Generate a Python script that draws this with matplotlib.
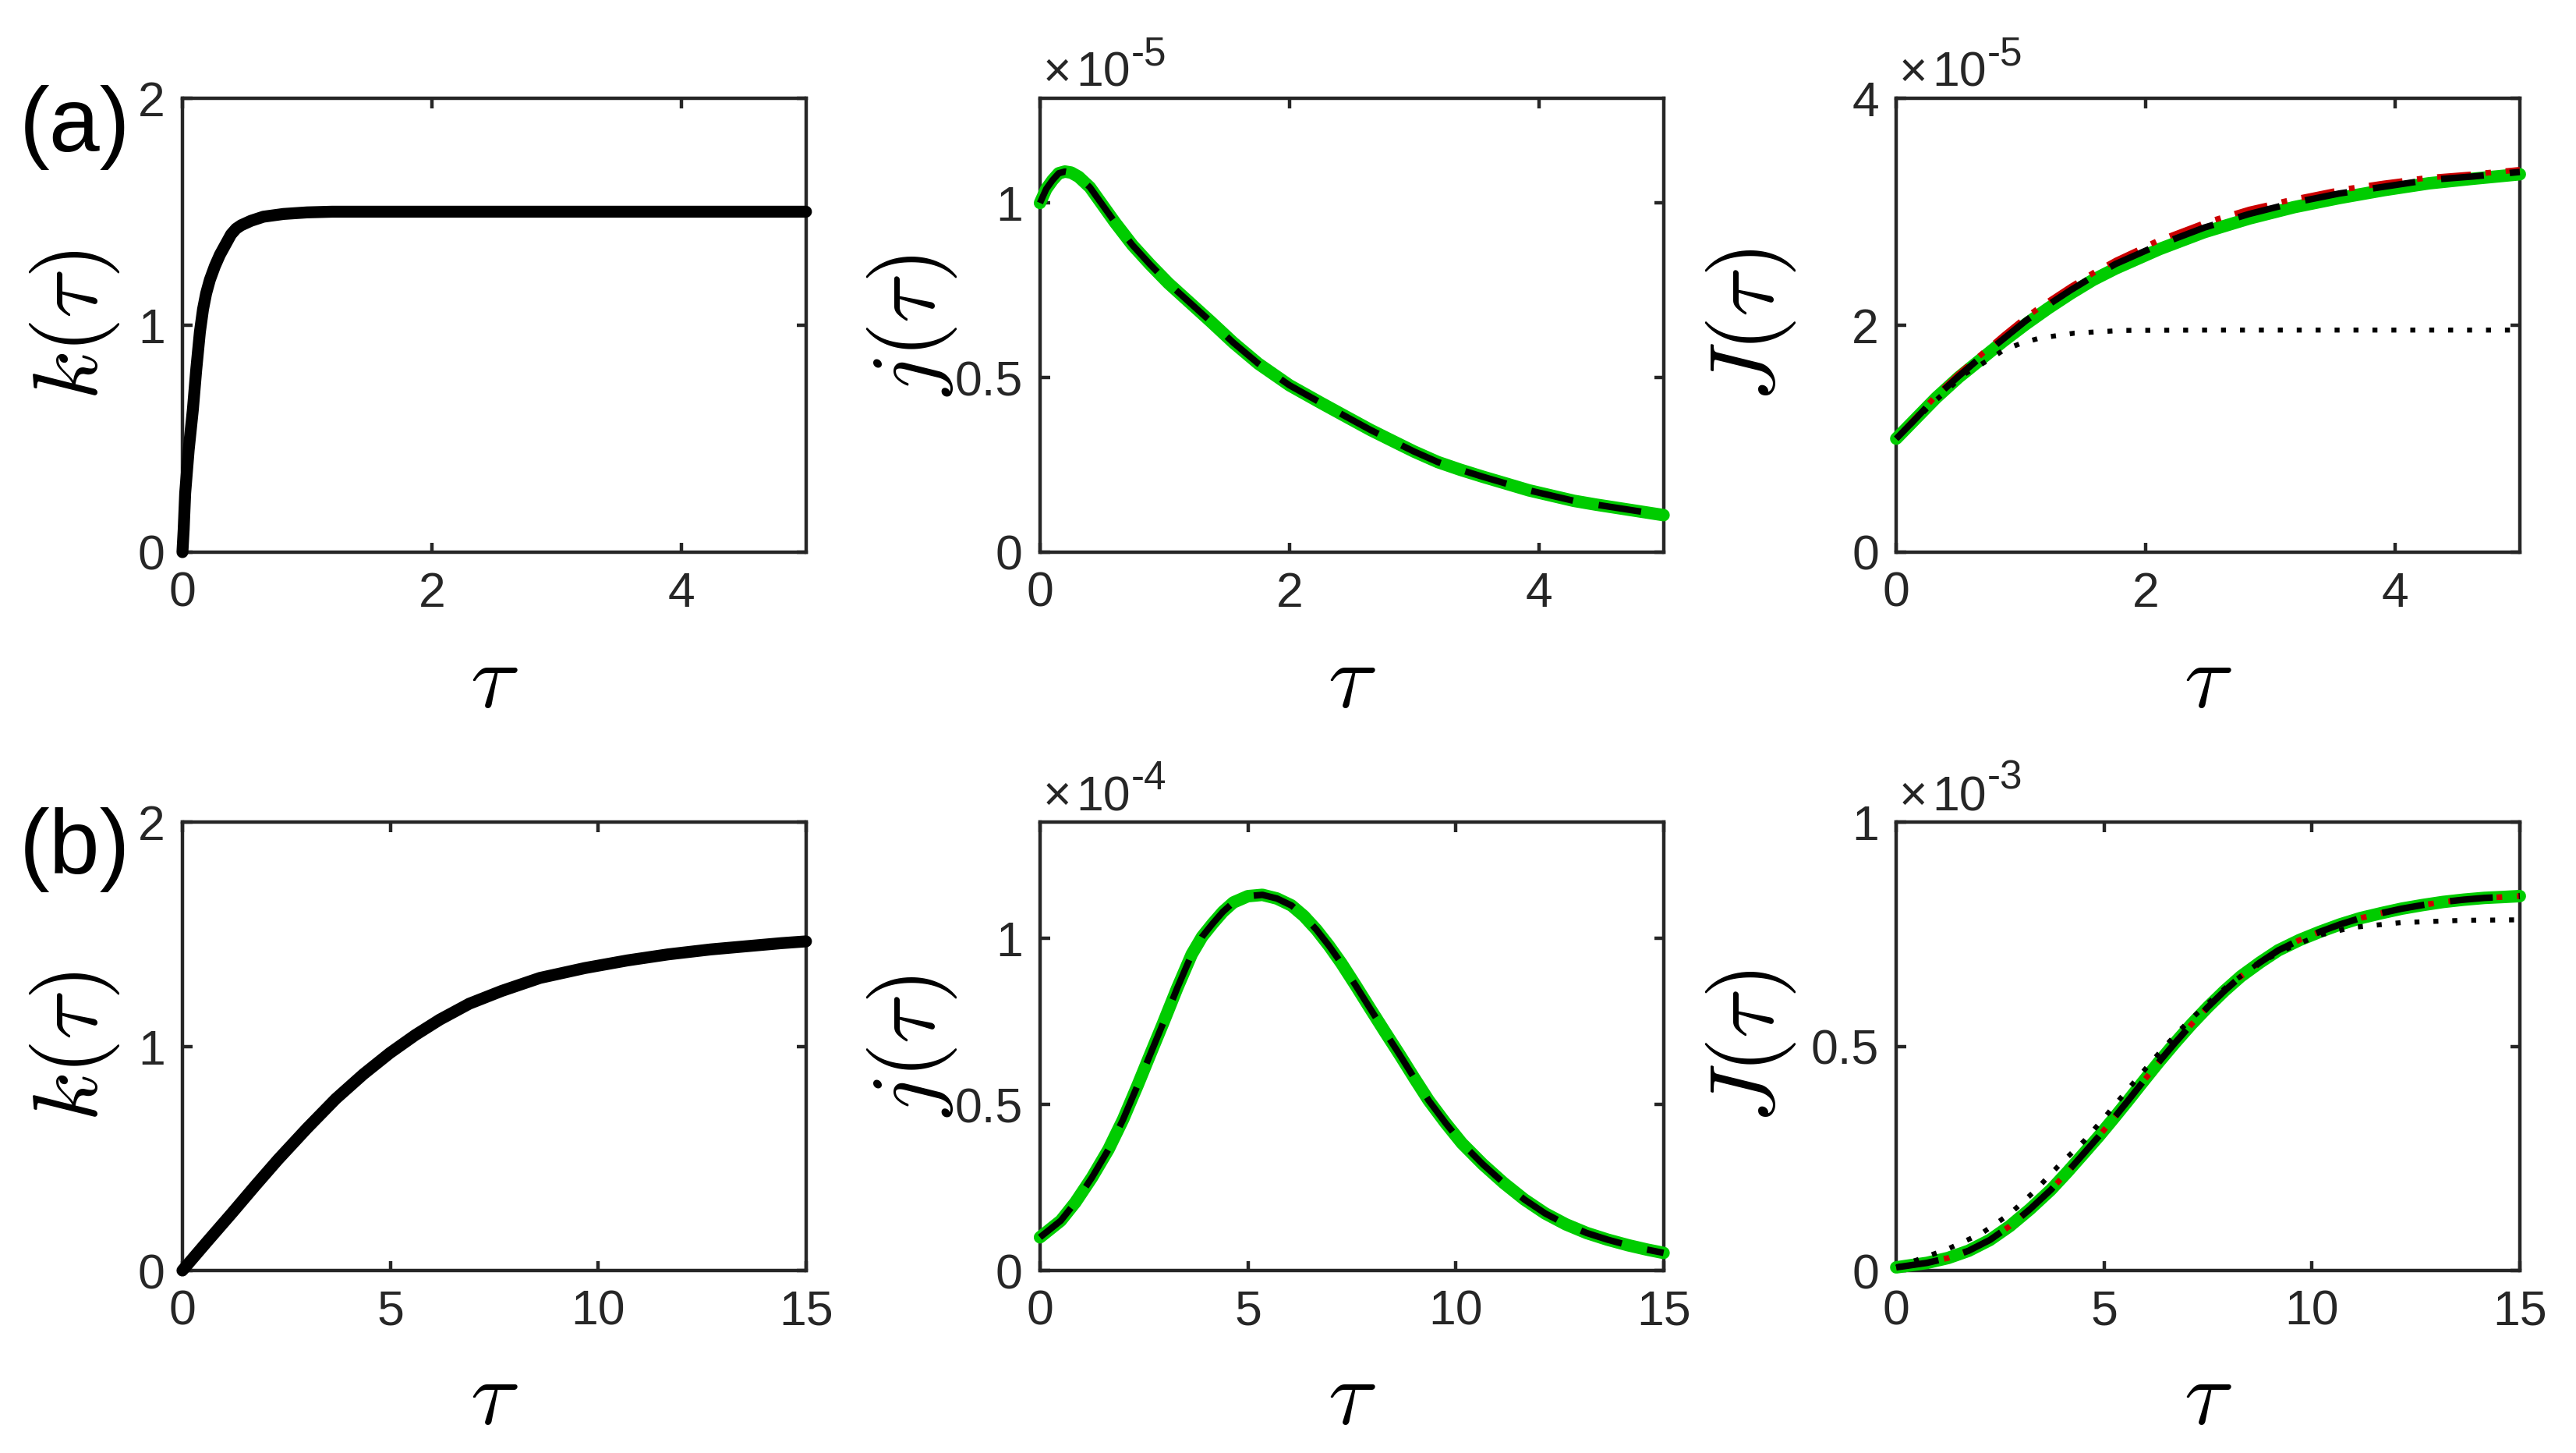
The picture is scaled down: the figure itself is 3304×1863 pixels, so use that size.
import numpy as np
import matplotlib
matplotlib.use('Agg')
import matplotlib.pyplot as plt
from matplotlib.ticker import FuncFormatter

plt.rcParams['font.family'] = ['Liberation Sans', 'DejaVu Sans']

# ---------------- DATA ----------------
# row (a): tau in [0, 5]
tau_k_a = [0, 0.01, 0.022, 0.05, 0.084, 0.11, 0.14, 0.165, 0.19, 0.22, 0.26, 0.30, 0.33,
           0.39, 0.43, 0.47, 0.55, 0.65, 0.81, 1.0, 1.2, 5.0]
k_a = [0, 0.10, 0.26, 0.45, 0.63, 0.80, 0.97, 1.07, 1.14, 1.20, 1.26, 1.31, 1.34,
       1.40, 1.425, 1.44, 1.46, 1.478, 1.49, 1.497, 1.5, 1.5]

tau_j_a = [0, 0.05, 0.1, 0.15, 0.2, 0.25, 0.31, 0.4, 0.49, 0.6, 0.74, 0.88, 1.03, 1.2,
           1.37, 1.55, 1.75, 2.0, 2.25, 2.47, 2.65, 2.83, 3.0, 3.19, 3.37, 3.55, 3.75,
           3.92, 4.1, 4.28, 4.46, 4.64, 4.82, 5.0]
j_a = [1.0, 1.04, 1.065, 1.085, 1.09, 1.087, 1.075, 1.045, 1.0, 0.945, 0.88, 0.825,
       0.77, 0.715, 0.66, 0.60, 0.54, 0.478, 0.428, 0.385, 0.35, 0.318, 0.288, 0.258,
       0.236, 0.216, 0.195, 0.177, 0.162, 0.147, 0.136, 0.126, 0.116, 0.106]   # x 1e-5

tau_J_a = [0, 0.16, 0.32, 0.5, 0.68, 0.86, 1.04, 1.22, 1.40, 1.58, 1.76, 2.11, 2.47,
           2.83, 3.19, 3.55, 3.91, 4.27, 4.62, 5.0]
J_a_exact = [1.00, 1.18, 1.36, 1.54, 1.70, 1.86, 2.01, 2.15, 2.28, 2.40, 2.50, 2.67,
             2.82, 2.94, 3.04, 3.12, 3.19, 3.25, 3.29, 3.33]
J_a_dash = [1.00, 1.18, 1.37, 1.55, 1.72, 1.88, 2.04, 2.18, 2.31, 2.43, 2.54, 2.71,
            2.86, 2.98, 3.08, 3.16, 3.22, 3.28, 3.31, 3.35]
J_a_dashdot = [1.00, 1.19, 1.38, 1.57, 1.74, 1.91, 2.07, 2.21, 2.34, 2.46, 2.57, 2.75,
               2.90, 3.02, 3.11, 3.19, 3.25, 3.30, 3.33, 3.37]
tau_J_a_dot = [0, 0.3, 0.55, 0.75, 0.86, 1.0, 1.15, 1.43, 1.82, 2.5, 3.5, 4.93]
J_a_dot = [1.0, 1.32, 1.57, 1.70, 1.78, 1.84, 1.886, 1.93, 1.954, 1.957, 1.957, 1.957]   # x 1e-5

# row (b): tau in [0, 15]
tau_k_b = [0, 0.6, 1.2, 1.75, 2.3, 3.0, 3.69, 4.35, 4.99, 5.6, 6.19, 6.9, 7.68, 8.6,
           9.68, 10.7, 11.68, 12.7, 13.67, 14.4, 15]
k_b = [0, 0.13, 0.258, 0.378, 0.495, 0.635, 0.766, 0.875, 0.97, 1.05, 1.119, 1.19,
       1.247, 1.305, 1.349, 1.383, 1.41, 1.432, 1.448, 1.46, 1.468]

tau_j_b = [0, 0.5, 0.85, 1.25, 1.65, 2.0, 2.35, 2.65, 2.95, 3.3, 3.65, 3.9, 4.15, 4.4,
           4.65, 5.0, 5.35, 5.7, 6.05, 6.35, 6.65, 6.95, 7.25, 7.6, 7.95, 8.3, 8.65, 9.0,
           9.35, 9.75, 10.15, 10.65, 11.15, 11.65, 12.15, 12.65, 13.15, 13.65, 14.15,
           14.6, 15]
j_b = [0.1, 0.15, 0.205, 0.28, 0.365, 0.455, 0.558, 0.65, 0.741, 0.85, 0.952, 1.005,
       1.044, 1.08, 1.108, 1.127, 1.131, 1.12, 1.099, 1.067, 1.026, 0.978, 0.925, 0.857,
       0.787, 0.718, 0.65, 0.58, 0.512, 0.445, 0.383, 0.32, 0.264, 0.214, 0.172, 0.139,
       0.113, 0.093, 0.076, 0.063, 0.053]   # x 1e-4

tau_J_b = [0, 0.74, 1.25, 1.74, 2.25, 2.73, 3.22, 3.72, 4.12, 4.52, 4.87, 5.21, 5.56,
           5.91, 6.3, 6.70, 7.1, 7.50, 7.9, 8.29, 8.75, 9.19, 9.7, 10.18, 10.68, 11.17,
           11.67, 12.16, 12.66, 13.16, 13.65, 14.15, 14.6, 15]
J_b_exact = [0.007, 0.017, 0.028, 0.044, 0.068, 0.099, 0.137, 0.180, 0.220, 0.262,
             0.299, 0.337, 0.377, 0.418, 0.463, 0.507, 0.549, 0.588, 0.624, 0.656,
             0.687, 0.714, 0.737, 0.755, 0.772, 0.786, 0.797, 0.807, 0.815, 0.822,
             0.827, 0.831, 0.833, 0.835]
J_b_dash = J_b_exact
J_b_dashdot = J_b_exact
tau_J_b_dot = [0, 1.24, 2.04, 2.73, 3.33, 3.92, 4.52, 5.06, 5.61, 6.21, 6.80, 7.40, 7.99,
               8.69, 9.48, 10.18, 10.97, 12.16, 13.65, 14.9]
J_b_dot = [0.007, 0.048, 0.082, 0.126, 0.177, 0.235, 0.289, 0.347, 0.408, 0.473, 0.534,
           0.588, 0.636, 0.684, 0.721, 0.748, 0.765, 0.776, 0.781, 0.782]   # x 1e-3

# ---------------- FIGURE ----------------
GREEN = '#00cc00'
RED = '#cc0000'
AXC = '#262626'
TICK_FS = 45
LAB_FS = 84

fig = plt.figure(figsize=(33.05, 18.63), dpi=100)

lefts = [0.0708, 0.4036, 0.7359]
width = 0.2420
rows = [(0.6200, 0.3124), (0.1256, 0.3086)]
ylab_x = [-0.173, -0.205, -0.233]


def style_axes(ax, xlim, xticks, ylim, yticks):
    ax.set_xlim(xlim)
    ax.set_ylim(ylim)
    ax.set_xticks(xticks)
    ax.set_yticks(yticks)
    fmt = FuncFormatter(lambda v, p: '%g' % v)
    ax.xaxis.set_major_formatter(fmt)
    ax.yaxis.set_major_formatter(fmt)
    for s in ax.spines.values():
        s.set_linewidth(3.2)
        s.set_color(AXC)
    ax.tick_params(direction='in', top=True, right=True, length=9, width=3.2,
                   color=AXC, labelcolor=AXC, labelsize=TICK_FS)
    ax.tick_params(axis='x', pad=17)
    ax.tick_params(axis='y', pad=16)


def labels(ax, col, ylab):
    ax.text(ylab_x[col], 0.5, ylab, transform=ax.transAxes, rotation=90,
            ha='center', va='center', fontsize=LAB_FS, math_fontfamily='cm')
    ax.text(0.5, -0.29, r'$\tau$', transform=ax.transAxes, ha='center', va='center',
            fontsize=LAB_FS, math_fontfamily='cm')


def offset_text(ax, exp):
    t1 = ax.text(0.005, 1.026, '×', transform=ax.transAxes, ha='left', va='baseline',
                 fontsize=TICK_FS, color=AXC)
    t2 = ax.annotate('10', xy=(1.0, 0.0), xycoords=t1, xytext=(4, 0),
                     textcoords='offset points', ha='left', va='bottom',
                     fontsize=TICK_FS, color=AXC)
    ax.annotate(exp, xy=(1.0, 0.0), xycoords=t2, xytext=(1, 29),
                textcoords='offset points', ha='left', va='baseline',
                fontsize=37, color=AXC)


def plot_J(ax, tau, exact, dashdot, dash, tau_dot, dot):
    ax.plot(tau, exact, color=GREEN, lw=11.5, solid_capstyle='round', clip_on=False, zorder=3)
    ax.plot(tau, dashdot, color=RED, lw=5.2, dashes=(6, 2.6, 1.0, 2.6), clip_on=False, zorder=4)
    ax.plot(tau, dash, color='black', lw=6, dashes=(6.6, 4), clip_on=False, zorder=5)
    ax.plot(tau_dot, dot, color='black', lw=4.6, dashes=(1, 2.8), clip_on=False, zorder=6)


# ---- row (a)
b, h = rows[0]
ax = fig.add_axes([lefts[0], b, width, h])
ax.plot(tau_k_a, k_a, color='black', lw=11, solid_capstyle='round', clip_on=False, zorder=3)
style_axes(ax, (0, 5), [0, 2, 4], (0, 2), [0, 1, 2])
labels(ax, 0, r'$k(\tau)$')

ax = fig.add_axes([lefts[1], b, width, h])
ax.plot(tau_j_a, j_a, color=GREEN, lw=11.5, solid_capstyle='round', clip_on=False, zorder=3)
ax.plot(tau_j_a, j_a, color='black', lw=6, dashes=(6.6, 4), clip_on=False, zorder=5)
style_axes(ax, (0, 5), [0, 2, 4], (0, 1.3), [0, 0.5, 1])
labels(ax, 1, r'$j(\tau)$')
offset_text(ax, '-5')

ax = fig.add_axes([lefts[2], b, width, h])
plot_J(ax, tau_J_a, J_a_exact, J_a_dashdot, J_a_dash, tau_J_a_dot, J_a_dot)
style_axes(ax, (0, 5), [0, 2, 4], (0, 4), [0, 2, 4])
labels(ax, 2, r'$J(\tau)$')
offset_text(ax, '-5')

# ---- row (b)
b, h = rows[1]
ax = fig.add_axes([lefts[0], b, width, h])
ax.plot(tau_k_b, k_b, color='black', lw=11, solid_capstyle='round', clip_on=False, zorder=3)
style_axes(ax, (0, 15), [0, 5, 10, 15], (0, 2), [0, 1, 2])
labels(ax, 0, r'$k(\tau)$')

ax = fig.add_axes([lefts[1], b, width, h])
ax.plot(tau_j_b, j_b, color=GREEN, lw=11.5, solid_capstyle='round', clip_on=False, zorder=3)
ax.plot(tau_j_b, j_b, color='black', lw=6, dashes=(6.6, 4), clip_on=False, zorder=5)
style_axes(ax, (0, 15), [0, 5, 10, 15], (0, 1.35), [0, 0.5, 1])
labels(ax, 1, r'$j(\tau)$')
offset_text(ax, '-4')

ax = fig.add_axes([lefts[2], b, width, h])
plot_J(ax, tau_J_b, J_b_exact, J_b_dashdot, J_b_dash, tau_J_b_dot, J_b_dot)
style_axes(ax, (0, 15), [0, 5, 10, 15], (0, 1), [0, 0.5, 1])
labels(ax, 2, r'$J(\tau)$')
offset_text(ax, '-3')

fig.text(0.0076, 1 - 163 / 1863, '(a)', ha='left', va='center', fontsize=84)
fig.text(0.0076, 1 - 1090 / 1863, '(b)', ha='left', va='center', fontsize=84)

fig.savefig('out.png', dpi=100)
